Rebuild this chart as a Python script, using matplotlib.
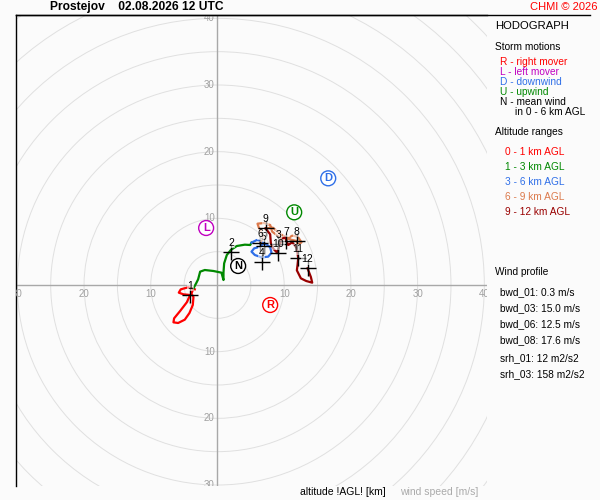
import numpy as np
import matplotlib.pyplot as plt
from matplotlib.patches import Circle
from matplotlib.lines import Line2D

# hodograph segments (u, v in m/s), one pair of arrays per altitude range
u_0_1 = [-3.4, -4.4, -5.5, -5.8, -5.1, -4.1, -4.6, -5.6, -6.5, -6.6, -5.9, -4.9, -4.2, -3.7, -3.6, -3.9, -3.6]
v_0_1 = [-0.65, -0.35, -0.65, -1.15, -1.4, -1.5, -2.6, -3.9, -5.0, -5.6, -5.7, -5.2, -4.2, -3.0, -1.8, -1.3, -0.5]

u_1_3 = [-3.6, -3.2, -2.9, -2.6, -1.9, -0.6, 0.6, 0.9, 0.9, 1.0, 1.4, 2.0, 2.9, 4.1, 4.9, 5.1]
v_1_3 = [-0.5, 0.25, 0.85, 2.0, 2.25, 2.1, 1.85, 0.75, 1.85, 3.25, 4.5, 5.25, 5.85, 6.05, 6.0, 6.35]

u_3_6 = [5.1, 5.9, 6.5, 6.9, 6.4, 5.5, 5.1, 5.6, 6.6, 7.6, 8.1, 7.9, 7.3, 6.4]
v_3_6 = [6.35, 6.75, 6.65, 6.25, 5.75, 5.5, 5.0, 4.5, 4.15, 4.25, 4.85, 5.65, 6.15, 6.25]

u_6_9 = [6.4, 6.9, 6.2, 6.0, 7.0, 7.9, 8.2, 9.0, 9.6, 10.4, 11.2, 12.0, 12.6, 12.0, 11.9, 11.0, 9.5, 8.3, 7.2]
v_6_9 = [6.25, 7.3, 8.6, 9.2, 9.3, 9.0, 8.0, 7.4, 7.0, 6.9, 7.4, 7.3, 6.4, 6.0, 6.6, 6.8, 7.6, 8.6, 8.5]

u_9_12 = [7.2, 7.9, 8.0, 8.4, 8.9, 9.2, 9.6, 10.1, 10.6, 11.2, 11.9, 12.1, 12.0, 11.9, 12.5, 13.3, 14.2, 14.0, 13.5]
v_9_12 = [8.5, 7.6, 6.3, 5.4, 4.9, 5.6, 6.8, 7.2, 6.0, 6.4, 5.5, 4.0, 3.0, 2.2, 1.0, 0.6, 0.35, 1.2, 2.5]

# wind at whole km heights
height_km = [1, 2, 3, 4, 5, 6, 7, 8, 9, 10, 11, 12]
height_u = [-4.1, 2.1, 9.1, 6.6, 6.9, 6.4, 10.3, 11.9, 7.2, 9.1, 12.1, 13.5]
height_v = [-1.5, 5.0, 6.2, 3.5, 5.9, 6.25, 6.6, 6.6, 8.5, 4.75, 4.0, 2.5]

# storm motions
motion_names = ['R', 'L', 'D', 'U', 'N']
motion_u = [7.9, -1.7, 16.6, 11.5, 3.1]
motion_v = [-3.0, 8.55, 16.0, 10.9, 2.85]

ring_labels = [-30, -20, -10, 10, 20, 30, 40]

storm_lines = ['R - right mover', 'L - left mover', 'D - downwind', 'U - upwind', 'N - mean wind']
range_lines = ['0 - 1 km AGL', '1 - 3 km AGL', '3 - 6 km AGL', '6 - 9 km AGL', '9 - 12 km AGL']
profile_lines = ['bwd_01: 0.3 m/s', 'bwd_03: 15.0 m/s', 'bwd_06: 12.5 m/s', 'bwd_08: 17.6 m/s',
                 'srh_01: 12 m2/s2', 'srh_03: 158 m2/s2']

red = '#ff0000'
green = '#008800'
blue = '#2f6fe8'
orange = '#dc7a4c'
dred = '#990000'
magenta = '#c000c0'
seg_colors = [red, green, blue, orange, dred]
motion_colors = [red, magenta, blue, green, 'black']

plt.rcParams['font.family'] = ['Liberation Sans', 'DejaVu Sans']
bg = '#fbfbfb'
fs = 7.3

fig = plt.figure(figsize=(6, 5), dpi=100, facecolor=bg)
ax = fig.add_axes([16/600, 14/500, 471/600, 471/500])
ax.set_facecolor(bg)
ax.set_xlim(-30.2, 40.4)
ax.set_ylim(-30.15, 40.5)
ax.set_xticks([])
ax.set_yticks([])
for s in ['right', 'bottom']:
    ax.spines[s].set_visible(False)
for s in ['left', 'top']:
    ax.spines[s].set_color('black')
    ax.spines[s].set_linewidth(1)
fig.add_artist(Line2D([16/600, 590/600], [1 - 15/500, 1 - 15/500], color='black', lw=1))

for r in range(5, 80, 5):
    ax.add_patch(Circle((0, 0), r, fill=False, ec='#e0e0e0', lw=0.7, zorder=1))
ax.axhline(0, color='#a8a8a8', lw=1, zorder=2)
ax.axvline(0, color='#a8a8a8', lw=1, zorder=2)

for t in ring_labels:
    ax.annotate(str(abs(t)), (t, 0), xytext=(0, -3), textcoords='offset points',
                ha='center', va='top', color='#a0a0a0', fontsize=7, clip_on=True)
    ax.annotate(str(abs(t)), (0, t), xytext=(-2, 0), textcoords='offset points',
                ha='right', va='center', color='#a0a0a0', fontsize=7, clip_on=True)

segs = [(u_0_1, v_0_1), (u_1_3, v_1_3), (u_3_6, v_3_6), (u_6_9, v_6_9), (u_9_12, v_9_12)]
for (u, v), c in zip(segs, seg_colors):
    ax.plot(u, v, color=c, lw=1.6, zorder=3, solid_joinstyle='round')

ax.plot(height_u, height_v, '+', color='black', ms=11, mew=1, zorder=5)
for h, u, v in zip(height_km, height_u, height_v):
    ax.annotate(str(h), (u, v), xytext=(0, 6.5), textcoords='offset points', ha='center',
                va='center', fontsize=7.5, zorder=6,
                bbox=dict(boxstyle='square,pad=0.05', fc='white', ec='none', alpha=0.55))

ax.scatter(motion_u, motion_v, s=115, facecolor='white', edgecolor=motion_colors, lw=1, zorder=7)
for name, u, v, c in zip(motion_names, motion_u, motion_v, motion_colors):
    ax.text(u, v, name, color=c, ha='center', va='center', fontsize=8,
            fontweight='bold', zorder=8)

def ftext(x, y, s, **kw):
    fig.text(x/600, 1 - y/500, s, va='center', **kw)

ftext(137, 7, 'Prostejov    02.08.2026 12 UTC', ha='center', fontsize=8.65, fontweight='bold')
ftext(597, 7, 'CHMI \u00a9 2026', ha='right', fontsize=8, color=red)
ftext(495, 26, 'HODOGRAPH', fontsize=8.1)
ftext(495, 47, 'Storm motions', fontsize=fs)
for i, (s, c) in enumerate(zip(storm_lines, motion_colors)):
    ftext(500, 62 + 10*i, s, fontsize=fs, color=c)
ftext(515, 112, 'in 0 - 6 km AGL', fontsize=fs)
ftext(495, 132, 'Altitude ranges', fontsize=fs)
for i, (s, c) in enumerate(zip(range_lines, seg_colors)):
    ftext(505, 152 + 15*i, s, fontsize=fs, color=c)
ftext(495, 272, 'Wind profile', fontsize=fs)
profile_y = [292, 308, 324, 340, 358, 374]
for s, y in zip(profile_lines, profile_y):
    ftext(500, y, s, fontsize=fs)
ftext(300, 492, 'altitude !AGL! [km]', fontsize=7.45)
ftext(400, 492, 'wind speed [m/s]', fontsize=7.45, color='#aaaaaa')

fig.savefig('out.png', dpi=100, facecolor=bg)
